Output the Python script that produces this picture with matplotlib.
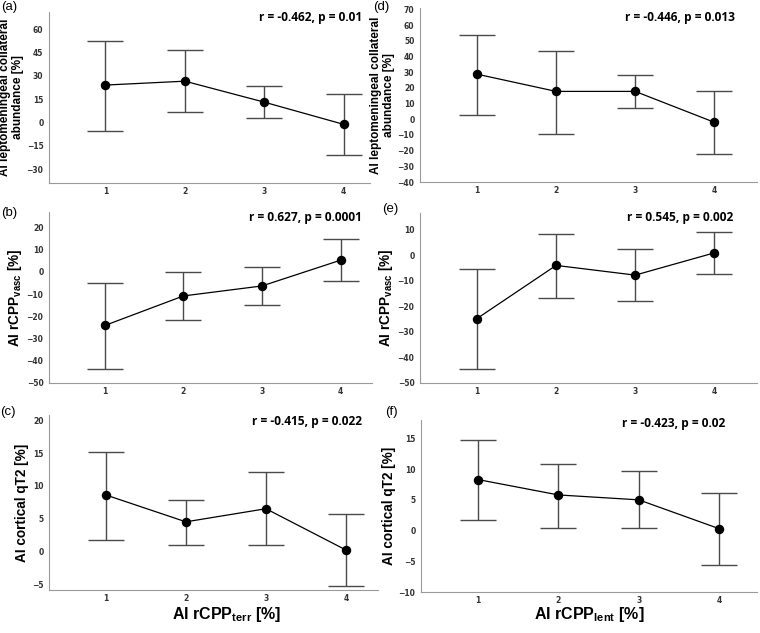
import matplotlib.pyplot as plt

plt.rcParams["mathtext.fontset"] = "custom"
plt.rcParams["mathtext.rm"] = "Liberation Sans"
plt.rcParams["mathtext.bf"] = "Liberation Sans:bold"

groups = [1, 2, 3, 4]

# (a) collateral abundance vs rCPP terr
a_mean = [24.0, 26.5, 13.0, -1.3]
a_low = [-5.6, 6.5, 2.6, -20.9]
a_high = [52.5, 46.6, 23.6, 18.0]

# (b) rCPP vasc vs rCPP terr
b_mean = [-24.1, -10.8, -6.3, 5.3]
b_low = [-43.7, -21.8, -14.9, -4.1]
b_high = [-4.8, 0.0, 2.3, 14.8]

# (c) cortical qT2 vs rCPP terr
c_mean = [8.6, 4.5, 6.5, 0.2]
c_low = [1.7, 1.0, 0.9, -5.3]
c_high = [15.2, 7.9, 12.1, 5.7]

# (d) collateral abundance vs rCPP lent
d_mean = [28.8, 17.8, 17.8, -1.9]
d_low = [2.8, -9.2, 7.1, -22.3]
d_high = [54.0, 43.8, 28.1, 18.0]

# (e) rCPP vasc vs rCPP lent
e_mean = [-24.8, -4.0, -7.8, 0.9]
e_low = [-44.5, -16.7, -18.0, -7.3]
e_high = [-5.3, 8.3, 2.5, 9.0]

# (f) cortical qT2 vs rCPP lent
f_mean = [8.3, 5.8, 5.0, 0.3]
f_low = [1.7, 0.5, 0.4, -5.6]
f_high = [14.8, 10.9, 9.7, 6.1]

stats = ["r = -0.462, p = 0.01", "r = 0.627, p = 0.0001", "r = -0.415, p = 0.022",
         "r = -0.446, p = 0.013", "r = 0.545, p = 0.002", "r = -0.423, p = 0.02"]

label_abund = "AI leptomeningeal collateral\nabundance [%]"
label_vasc = r"AI rCPP$_{\mathbf{vasc}}$ [%]"
label_qt2 = "AI cortical qT2 [%]"

fig = plt.figure(figsize=(7.6, 6.33), dpi=100)
W, H = 760, 633


def add_ax(left, top, right, bottom):
    return fig.add_axes([left / W, 1 - bottom / H, (right - left) / W, (bottom - top) / H])


panels = [
    # tag, tag pos, box, mean, low, high, ylim, yticks, ylabel, stat, stat pos, xlim
    ("(a)", (1, 1), (49, 12, 370, 183), a_mean, a_low, a_high, (-39, 71), range(-30, 61, 15),
     label_abund, stats[0], (362, 18), (0.29, 4.33)),
    ("(b)", (1, 207), (49, 212, 372, 383), b_mean, b_low, b_high, (-50, 27), range(-50, 21, 10),
     label_vasc, stats[1], (362, 217), (0.29, 4.4)),
    ("(c)", (0, 406), (49, 415, 378, 590), c_mean, c_low, c_high, (-5.9, 20.8), range(-5, 21, 5),
     label_qt2, stats[2], (362, 422), (0.29, 4.4)),
    ("(d)", (373, 1), (420, 8, 757, 182), d_mean, d_low, d_high, (-40, 71), range(-40, 71, 10),
     label_abund, stats[3], (735, 17), (0.28, 4.54)),
    ("(e)", (382, 203), (420, 213, 757, 383), e_mean, e_low, e_high, (-50, 16.5), range(-50, 11, 10),
     label_vasc, stats[4], (733, 217), (0.28, 4.54)),
    ("(f)", (385, 406), (421, 420, 757, 592), f_mean, f_low, f_high, (-10, 18), range(-10, 16, 5),
     label_qt2, stats[5], (725, 423), (0.29, 4.47)),
]

for tag, tpos, box, mean, low, high, ylim, yticks, ylabel, stat, spos, xlim in panels:
    ax = add_ax(*box)
    yerr = [[m - lo for m, lo in zip(mean, low)], [hi - m for m, hi in zip(mean, high)]]
    ax.errorbar(groups, mean, yerr=yerr, fmt="none", ecolor="#4a4a4a", elinewidth=1.0,
                capsize=13, capthick=1.0, zorder=2)
    ax.plot(groups, mean, color="black", lw=0.9, marker="o", markersize=5.8, zorder=3)
    ax.set_xlim(*xlim)
    ax.set_ylim(*ylim)
    ax.set_xticks(groups)
    ax.set_yticks(list(yticks))
    ax.tick_params(axis="y", length=0, labelsize=5.5, colors="#333333", pad=4)
    ax.tick_params(axis="x", length=0, labelsize=5.5, colors="#333333", pad=3)
    for lab in ax.get_xticklabels() + ax.get_yticklabels():
        lab.set_fontweight("bold")
    for side in ["top", "right"]:
        ax.spines[side].set_visible(False)
    for side in ["left", "bottom"]:
        ax.spines[side].set_color("#9a9a9a")
        ax.spines[side].set_linewidth(0.8)
    size = 8.5 if ylabel == label_abund else 9.8
    ax.set_ylabel(ylabel, fontsize=size, fontweight="bold", family="Liberation Sans",
                  linespacing=1.1, labelpad=2)
    fig.text(spos[0] / W, 1 - spos[1] / H, stat, ha="right", va="center",
             fontsize=8.6, fontweight="bold", family="Open Sans")
    fig.text(tpos[0] / W, 1 - tpos[1] / H, tag, fontsize=9.5, family="Liberation Sans",
             va="top", ha="left")

fig.text(227 / W, 1 - 615 / H, r"AI rCPP$_{\mathbf{terr}}$ [%]", ha="center", va="center",
         fontsize=11.5, fontweight="bold", family="Liberation Sans")
fig.text(589 / W, 1 - 615 / H, r"AI rCPP$_{\mathbf{lent}}$ [%]", ha="center", va="center",
         fontsize=11.5, fontweight="bold", family="Liberation Sans")

fig.savefig("out.png", dpi=100, facecolor="white")
